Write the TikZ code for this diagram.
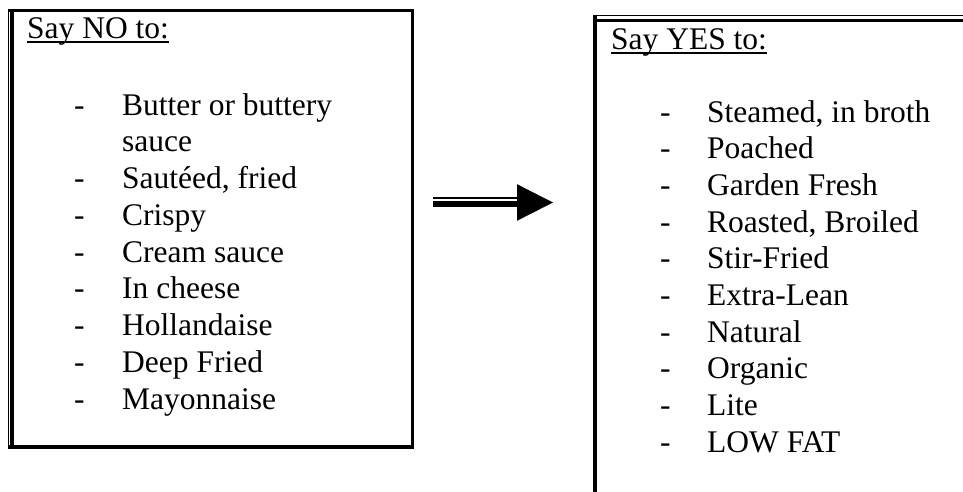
\documentclass[tikz,border=0pt]{standalone}
\usepackage{fontspec}
\setmainfont{Liberation Serif}
\begin{document}
\begin{tikzpicture}[x=1pt,y=-1pt,
  txt/.style={anchor=base west, inner sep=0pt, font=\fontsize{31.5}{36.8}\selectfont},
  thickrule/.style={line width=3.5pt},
  thinrule/.style={line width=1.3pt},
  uline/.style={line width=1.4pt}]
\clip (0,0) rectangle (963,491);
\fill[white] (0,0) rectangle (963,491);
% ---- left box ----
\draw[thickrule] (12,10.5) rectangle (412.5,447);
\draw[thinrule] (8.5,8.8) -- (8.5,448.7);
\draw[thickrule] (8,10.5) -- (12,10.5);
\draw[thickrule] (8,447) -- (12,447);
\node[txt] (hno) at (27,38) {Say NO to:};
\draw[uline] ([yshift=-4pt]hno.base west) -- ([yshift=-4pt]hno.base east);
\node[txt] (nd1) at (74,115) {-};
\node[txt] (n1) at (122,115) {Butter or buttery};
\node[txt] (n1b) at (122,151.75) {sauce};
\node[txt] (nd2) at (74,188.5) {-};
\node[txt] (n2) at (122,188.5) {Sautéed, fried};
\node[txt] (nd3) at (74,225.25) {-};
\node[txt] (n3) at (122,225.25) {Crispy};
\node[txt] (nd4) at (74,262) {-};
\node[txt] (n4) at (122,262) {Cream sauce};
\node[txt] (nd5) at (74,298.75) {-};
\node[txt] (n5) at (122,298.75) {In cheese};
\node[txt] (nd6) at (74,335.5) {-};
\node[txt] (n6) at (122,335.5) {Hollandaise};
\node[txt] (nd7) at (74,372.25) {-};
\node[txt] (n7) at (122,372.25) {Deep Fried};
\node[txt] (nd8) at (74,409) {-};
\node[txt] (n8) at (122,409) {Mayonnaise};
% ---- arrow ----
\coordinate (as) at (433,202.5);
\coordinate (ah) at (517,202.5);
\coordinate (at) at (553,202.5);
\draw[line width=1.6pt] ([yshift=4.5pt]as) -- ([yshift=4.5pt]ah);
\draw[line width=6pt] ([yshift=-1.5pt]as) -- ([yshift=-1.5pt]ah);
\fill ([yshift=18.3pt]ah) -- (at) -- ([yshift=-18.3pt]ah) -- cycle;
% ---- right box ----
\draw[line width=1.6pt] (593.3,15.5) -- (970,15.5);
\draw[line width=3pt] (593.3,20) -- (970,20);
\draw[thickrule] (595,14.7) -- (595,500);
\node[txt] (hyes) at (611,49) {Say YES to:};
\draw[uline] ([yshift=-4pt]hyes.base west) -- ([yshift=-4pt]hyes.base east);
\foreach \t [count=\i from 0] in {{Steamed, in broth},Poached,Garden Fresh,{Roasted, Broiled},Stir-Fried,Extra-Lean,Natural,Organic,Lite,LOW FAT}{
  \node[txt] (yd\i) at (660,122+36.67*\i) {-};
  \node[txt] (y\i) at (707,122+36.67*\i) {\t};
}
\end{tikzpicture}
\end{document}
